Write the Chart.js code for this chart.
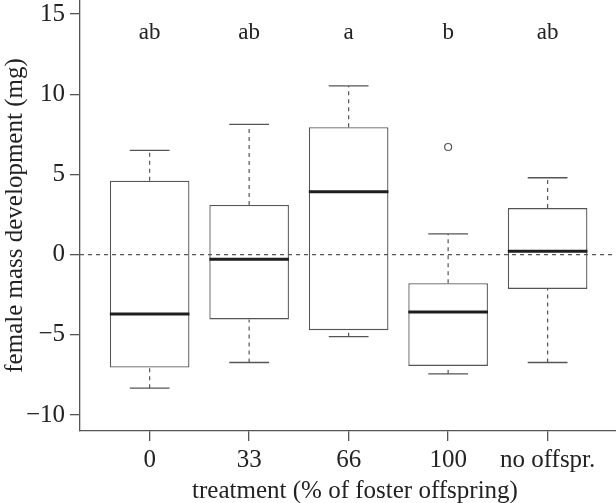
<!DOCTYPE html>
<html>
<head>
<meta charset="utf-8">
<script src="https://cdn.jsdelivr.net/npm/chart.js@4.4.0/dist/chart.umd.min.js"></script>
<style>
html,body{margin:0;padding:0;background:#fff;overflow:hidden}
#wrap{width:616px;height:503px;position:relative;overflow:hidden}
</style>
</head>
<body>
<div id="wrap"><canvas id="c" width="630" height="503"></canvas></div>
<script>
// ---- data ----
const categories = ['0', '33', '66', '100', 'no offspr.'];
const whiskerLow = [-8.33, -6.73, -5.12, -7.44, -6.73];
const q1         = [-7.04, -4.04, -4.71, -6.94, -2.14];
const median     = [-3.71, -0.29, 3.92, -3.58, 0.21];
const q3         = [4.60, 3.10, 7.94, -1.79, 2.90];
const whiskerHigh= [6.50, 8.12, 10.52, 1.29, 4.79];
const outliers   = [[], [], [], [6.71], []];
const letters    = ['ab', 'ab', 'a', 'b', 'ab'];
const yTicks     = [-10, -5, 0, 5, 10, 15];

const SERIF = '"Liberation Serif", "DejaVu Serif", serif';
const GREY = '#555555';
const TEXT = '#222222';
const LETTER_Y = 13.8;

// build datasets from arrays
const boxData = categories.map((c, i) => ({x: i, y: [q1[i], q3[i]]}));
const whiskerData = [];
const capData = [];
const medianData = [];
categories.forEach((c, i) => {
  whiskerData.push({x: i, y: q3[i]}, {x: i, y: whiskerHigh[i]}, {x: i, y: null});
  whiskerData.push({x: i, y: whiskerLow[i]}, {x: i, y: q1[i]}, {x: i, y: null});
  capData.push({x: i - 0.2, y: whiskerHigh[i]}, {x: i + 0.2, y: whiskerHigh[i]}, {x: i, y: null});
  capData.push({x: i - 0.2, y: whiskerLow[i]}, {x: i + 0.2, y: whiskerLow[i]}, {x: i, y: null});
  medianData.push({x: i - 0.4, y: median[i]}, {x: i + 0.4, y: median[i]}, {x: i, y: null});
});
const outlierData = [];
outliers.forEach((arr, i) => arr.forEach(v => outlierData.push({x: i, y: v})));

const X_MIN = -0.7, X_MAX = 4.828;
const zeroData = [{x: X_MIN, y: 0}, {x: X_MAX, y: 0}];

const letterPlugin = {
  id: 'letters',
  afterDatasetsDraw(chart) {
    const ctx = chart.ctx, xs = chart.scales.x, ys = chart.scales.y;
    ctx.save();
    ctx.fillStyle = TEXT;
    ctx.font = '23px ' + SERIF;
    ctx.textAlign = 'center';
    ctx.textBaseline = 'middle';
    letters.forEach((l, i) => ctx.fillText(l, xs.getPixelForValue(i), ys.getPixelForValue(LETTER_Y)));
    ctx.restore();
  }
};

function noPad(scale) {
  scale.paddingTop = 0; scale.paddingBottom = 0; scale.paddingLeft = 0; scale.paddingRight = 0;
}

new Chart(document.getElementById('c'), {
  type: 'bar',
  data: {
    datasets: [
      {type: 'line', data: zeroData, borderColor: GREY, borderWidth: 1.2, borderDash: [4, 4], pointRadius: 0, order: 0},
      {type: 'line', data: medianData, borderColor: '#1e1e1e', borderWidth: 3, pointRadius: 0, spanGaps: false, order: 1},
      {type: 'line', data: whiskerData, borderColor: GREY, borderWidth: 1.2, borderDash: [4, 4], pointRadius: 0, spanGaps: false, order: 2},
      {type: 'line', data: capData, borderColor: GREY, borderWidth: 1.3, pointRadius: 0, spanGaps: false, order: 2},
      {type: 'scatter', data: outlierData, pointRadius: 3.5, pointBorderColor: GREY, pointBackgroundColor: '#fff', pointBorderWidth: 1.2, order: 1},
      {type: 'bar', data: boxData, backgroundColor: '#ffffff', borderColor: GREY, borderWidth: 1.3, borderSkipped: false, barPercentage: 0.8, categoryPercentage: 1, order: 5}
    ]
  },
  options: {
    responsive: false,
    animation: false,
    events: [],
    layout: {autoPadding: false, padding: {top: 0, right: 0, bottom: 0, left: 0}},
    plugins: {legend: {display: false}, tooltip: {enabled: false}},
    scales: {
      x: {
        type: 'linear',
        offset: false,
        min: X_MIN, max: X_MAX,
        afterBuildTicks(scale) { scale.ticks = categories.map((c, i) => ({value: i})); },
        afterFit(scale) { scale.height = 72; noPad(scale); },
        ticks: {
          callback: (v) => categories[v] !== undefined ? categories[v] : '',
          font: {family: SERIF, size: 25}, color: TEXT, padding: 4, maxRotation: 0, autoSkip: false
        },
        grid: {display: true, offset: false, drawOnChartArea: false, drawTicks: true, tickLength: 10, color: GREY, lineWidth: 1.3},
        border: {display: true, color: GREY, width: 1.3},
        title: {display: true, text: 'treatment (% of foster offspring)', font: {family: SERIF, size: 25}, color: TEXT, padding: {top: 0, bottom: -3}}
      },
      y: {
        type: 'linear',
        min: -11, max: 15.875,
        afterBuildTicks(scale) { scale.ticks = yTicks.map(v => ({value: v})); },
        afterFit(scale) { scale.width = 80; noPad(scale); },
        ticks: {
          callback: (v) => (v < 0 ? '\u2212' + Math.abs(v) : String(v)),
          font: {family: SERIF, size: 25}, color: TEXT, padding: 5
        },
        grid: {display: true, drawOnChartArea: false, drawTicks: true, tickLength: 10, color: GREY, lineWidth: 1.3},
        border: {display: true, color: GREY, width: 1.3},
        title: {display: true, text: 'female mass development (mg)', font: {family: SERIF, size: 25}, color: TEXT, padding: {top: 0, bottom: 0}}
      }
    }
  },
  plugins: [letterPlugin]
});
</script>
</body>
</html>
